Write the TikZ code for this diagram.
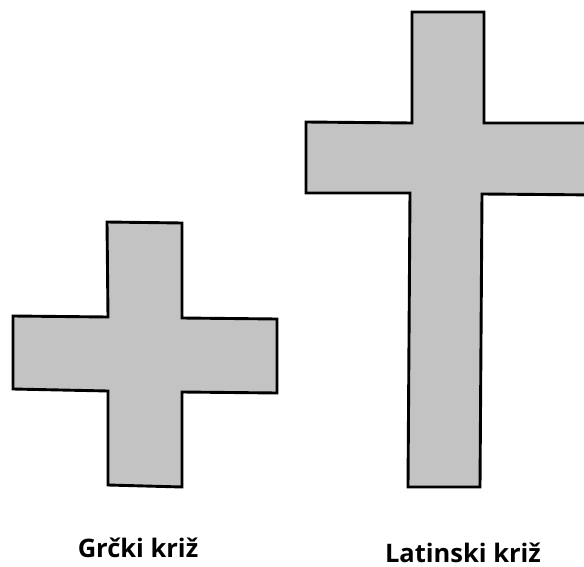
\documentclass[tikz,border=0pt]{standalone}
\usepackage{fontspec}
\setmainfont{Open Sans}
\definecolor{crossgray}{HTML}{C3C3C3}
\begin{document}
\begin{tikzpicture}[x=1pt,y=-1pt,
  crossshape/.style={fill=crossgray,draw=black,line width=2.9pt,line join=miter},
  label/.style={font=\bfseries\fontsize{25.5}{28}\selectfont,inner sep=0pt,anchor=base}]
\useasboundingbox (0,0) rectangle (584,567);
\clip (0,0) rectangle (584,567);
% Greek cross
\draw[crossshape] (107,222) -- (182,223) -- (182,318) -- (277,319) -- (277,393)
  -- (182,392) -- (182,487) -- (108,485) -- (108,391) -- (13,389) -- (13,316)
  -- (108,317) -- cycle;
% Latin cross
\draw[crossshape] (412,12) -- (484,12) -- (484,123) -- (600,123) -- (600,195)
  -- (482,194) -- (480,487) -- (408,487) -- (410,193) -- (306,193) -- (306,122)
  -- (412,123) -- cycle;
\node[label] (greek) at (138,557) {Grčki križ};
\node[label] (latin) at (463,562) {Latinski križ};
\end{tikzpicture}
\end{document}
